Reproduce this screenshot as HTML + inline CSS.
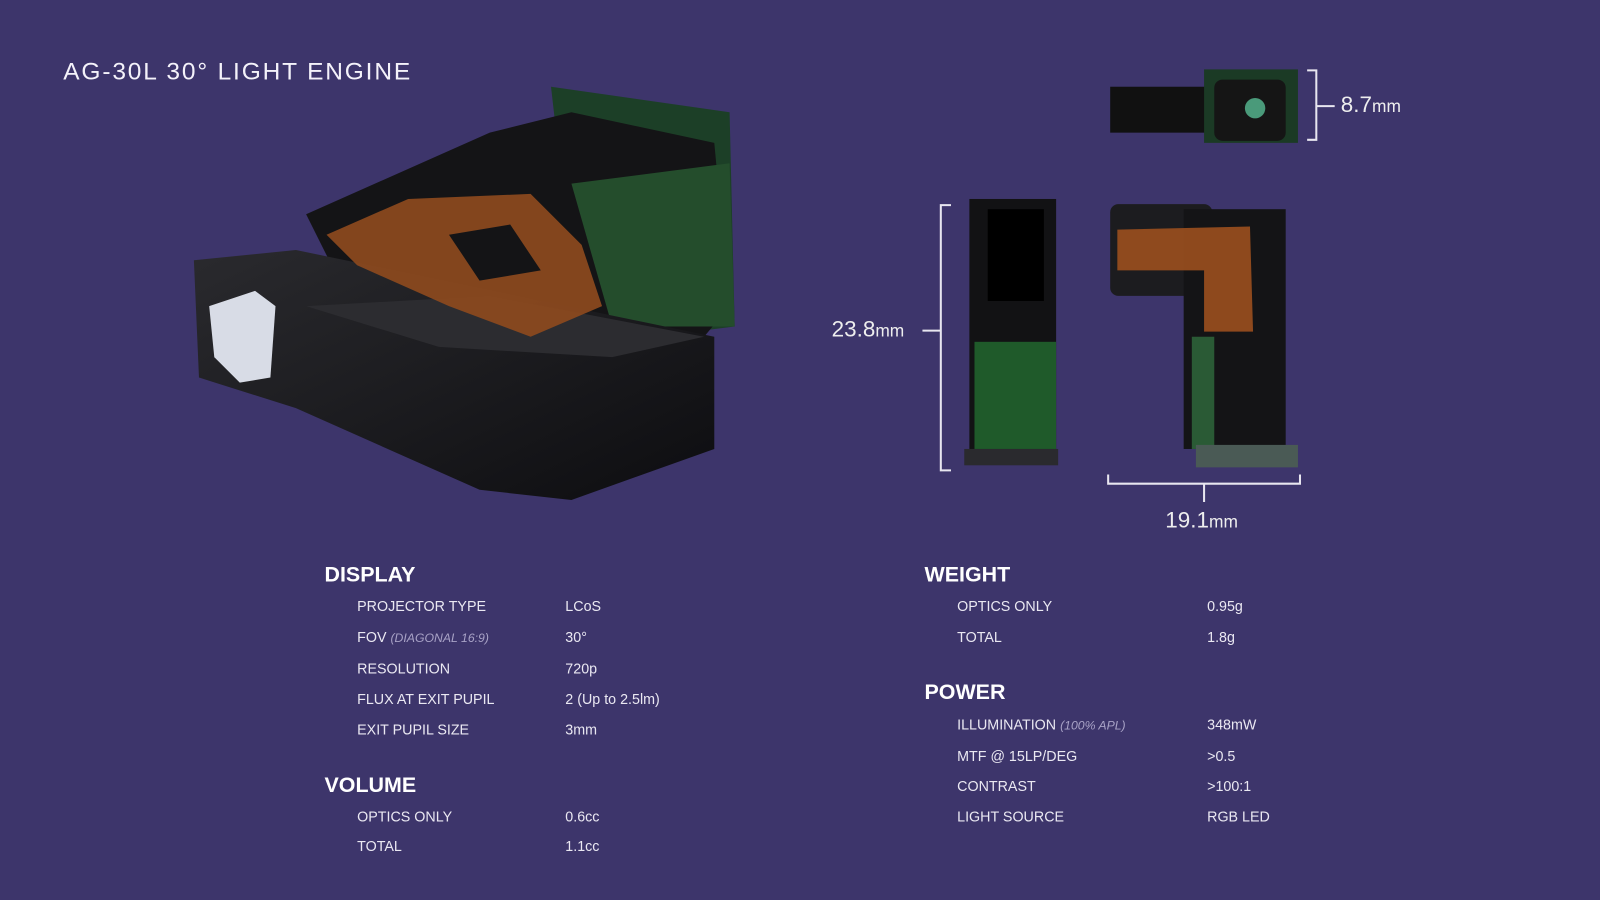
<!DOCTYPE html>
<html><head><meta charset="utf-8"><style>
html,body{margin:0;padding:0;background:#3d356b;width:1600px;height:900px;overflow:hidden}
#w{position:absolute;left:0;top:0;width:1568px;height:882px;transform:scale(1.0204);transform-origin:0 0;font-family:"Liberation Sans",sans-serif;color:#f2f0f8}
.t{position:absolute;white-space:nowrap}
.h{font-size:21px;font-weight:bold;color:#fff}
.l{font-size:14px;color:#eae8f2}
.l i{color:#a8a2c6;font-size:12px}
.dim{font-size:22px;color:#eee}.dim small{font-size:17px}
</style></head><body><div id="w">
<svg width="1568" height="882" style="position:absolute;left:0;top:0">
<defs><linearGradient id="g1" x1="0" y1="0" x2="1" y2="1"><stop offset="0" stop-color="#2a2a2e"/><stop offset="1" stop-color="#0d0d10"/></linearGradient></defs>
<polygon points="540,85 715,110 720,320 640,330 560,260" fill="#1c3f27"/>
<polygon points="300,210 480,130 560,110 700,140 715,300 690,330 640,330 520,300 340,290" fill="#141416"/>
<polygon points="560,180 715,160 720,320 600,320" fill="#244d2c"/>
<polygon points="190,255 290,245 700,330 700,440 560,490 470,480 290,400 195,370" fill="url(#g1)"/>
<polygon points="300,300 480,290 690,330 600,350 430,340" fill="#2c2c30"/>
<path d="M320,230 L400,195 L520,190 L570,240 L590,300 L520,330 L440,300 L350,260 Z M440,230 L500,220 L530,265 L470,275 Z" fill="#8f4a1e" fill-rule="evenodd" opacity=".9"/>
<polygon points="205,300 250,285 270,300 265,370 235,375 210,350" fill="#d8dce6"/>
<rect x="1088" y="85" width="110" height="45" fill="#111"/>
<rect x="1180" y="68" width="92" height="72" fill="#1b3a25"/>
<rect x="1190" y="78" width="70" height="60" rx="8" fill="#151515"/>
<circle cx="1230" cy="106" r="10" fill="#4a9a7a"/>
<rect x="950" y="195" width="85" height="245" fill="#121214"/>
<rect x="968" y="205" width="55" height="90" fill="#000"/>
<rect x="955" y="335" width="80" height="105" fill="#1f5a2a"/>
<rect x="945" y="440" width="92" height="16" fill="#2a2a2e"/>
<rect x="1088" y="200" width="100" height="90" rx="8" fill="#1c1c1f"/>
<rect x="1160" y="205" width="100" height="235" fill="#141416"/>
<path d="M1095,225 L1225,222 L1228,325 L1180,325 L1180,265 L1095,265 Z" fill="#a3521f" opacity=".85"/>
<rect x="1168" y="330" width="22" height="110" fill="#2a5a35"/>
<rect x="1172" y="436" width="100" height="22" fill="#4a5a55"/>
<g stroke="#e8e6f0" stroke-width="2" fill="none">
<path d="M1281,69 H1290 V137 H1281 M1290,104 H1308"/>
<path d="M932,201 H922 V461 H932 M922,324 H904"/>
<path d="M1086,465 V474 H1274 V465 M1180,474 V492"/>
</g>
</svg>
<div class="t" style="left:62px;top:57px;font-size:24px;letter-spacing:1.8px;color:#f4f2fa">AG-30L 30° LIGHT ENGINE</div>
<div class="t dim" style="left:1314px;top:90px">8.7<small>mm</small></div>
<div class="t dim" style="left:815px;top:310px">23.8<small>mm</small></div>
<div class="t dim" style="left:1142px;top:497px">19.1<small>mm</small></div>
<div class="t h" style="left:318px;top:552px">DISPLAY</div>
<div class="t l" style="left:350px;top:586px">PROJECTOR TYPE</div><div class="t l" style="left:554px;top:586px">LCoS</div>
<div class="t l" style="left:350px;top:616px">FOV <i>(DIAGONAL 16:9)</i></div><div class="t l" style="left:554px;top:616px">30°</div>
<div class="t l" style="left:350px;top:647px">RESOLUTION</div><div class="t l" style="left:554px;top:647px">720p</div>
<div class="t l" style="left:350px;top:677px">FLUX AT EXIT PUPIL</div><div class="t l" style="left:554px;top:677px">2 (Up to 2.5lm)</div>
<div class="t l" style="left:350px;top:707px">EXIT PUPIL SIZE</div><div class="t l" style="left:554px;top:707px">3mm</div>
<div class="t h" style="left:318px;top:758px">VOLUME</div>
<div class="t l" style="left:350px;top:792px">OPTICS ONLY</div><div class="t l" style="left:554px;top:792px">0.6cc</div>
<div class="t l" style="left:350px;top:821px">TOTAL</div><div class="t l" style="left:554px;top:821px">1.1cc</div>
<div class="t h" style="left:906px;top:552px">WEIGHT</div>
<div class="t l" style="left:938px;top:586px">OPTICS ONLY</div><div class="t l" style="left:1183px;top:586px">0.95g</div>
<div class="t l" style="left:938px;top:616px">TOTAL</div><div class="t l" style="left:1183px;top:616px">1.8g</div>
<div class="t h" style="left:906px;top:667px">POWER</div>
<div class="t l" style="left:938px;top:702px">ILLUMINATION <i>(100% APL)</i></div><div class="t l" style="left:1183px;top:702px">348mW</div>
<div class="t l" style="left:938px;top:733px">MTF @ 15LP/DEG</div><div class="t l" style="left:1183px;top:733px">&gt;0.5</div>
<div class="t l" style="left:938px;top:762px">CONTRAST</div><div class="t l" style="left:1183px;top:762px">&gt;100:1</div>
<div class="t l" style="left:938px;top:792px">LIGHT SOURCE</div><div class="t l" style="left:1183px;top:792px">RGB LED</div>
</div></body></html>
